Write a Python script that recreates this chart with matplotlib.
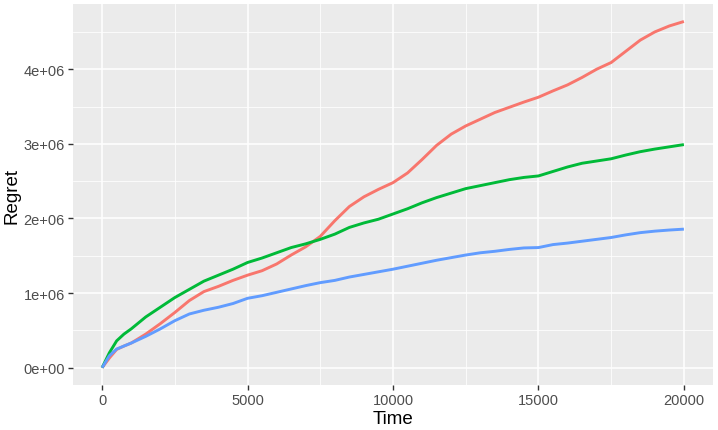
import numpy as np
import matplotlib
matplotlib.use("Agg")
import matplotlib.pyplot as plt
from matplotlib.ticker import FixedLocator, FuncFormatter

time = [0, 250, 500, 750, 1000, 1500, 2000, 2500, 3000, 3500, 4000, 4500, 5000,
        5500, 6000, 6500, 7000, 7500, 8000, 8500, 9000, 9500, 10000, 10500, 11000,
        11500, 12000, 12500, 13000, 13500, 14000, 14500, 15000, 15500, 16000, 16500,
        17000, 17500, 18000, 18500, 19000, 19500, 20000]

# regret in millions
regret_red = [0, 0.13, 0.245, 0.29, 0.33, 0.45, 0.59, 0.74, 0.90, 1.02, 1.09, 1.17, 1.24,
              1.30, 1.39, 1.51, 1.62, 1.76, 1.97, 2.16, 2.29, 2.39, 2.48, 2.61, 2.79,
              2.98, 3.13, 3.24, 3.33, 3.42, 3.49, 3.56, 3.625, 3.71, 3.79, 3.89,
              4.00, 4.09, 4.24, 4.39, 4.50, 4.58, 4.64]
regret_green = [0, 0.20, 0.36, 0.45, 0.52, 0.68, 0.81, 0.94, 1.05, 1.16, 1.24, 1.32, 1.41,
                1.47, 1.54, 1.61, 1.66, 1.72, 1.79, 1.88, 1.94, 1.99, 2.06, 2.13, 2.21,
                2.28, 2.34, 2.40, 2.44, 2.48, 2.52, 2.55, 2.57, 2.63, 2.69, 2.74,
                2.77, 2.80, 2.85, 2.895, 2.93, 2.96, 2.99]
regret_blue = [0, 0.16, 0.25, 0.29, 0.33, 0.42, 0.52, 0.63, 0.72, 0.77, 0.81, 0.86, 0.93,
               0.965, 1.01, 1.055, 1.10, 1.14, 1.17, 1.215, 1.25, 1.285, 1.32, 1.36, 1.40,
               1.44, 1.475, 1.51, 1.54, 1.56, 1.585, 1.605, 1.61, 1.65, 1.67, 1.695,
               1.72, 1.745, 1.78, 1.81, 1.83, 1.845, 1.857]

series = [("A", regret_red, "#F8766D"),
          ("B", regret_green, "#00BA38"),
          ("C", regret_blue, "#619CFF")]

x_major = [0, 5000, 10000, 15000, 20000]
x_minor = [2500, 7500, 12500, 17500]
y_major = [0, 1e6, 2e6, 3e6, 4e6]
y_minor = [0.5e6, 1.5e6, 2.5e6, 3.5e6, 4.5e6]

plt.rcParams['font.family'] = ['Liberation Sans', 'DejaVu Sans']

fig = plt.figure(figsize=(7.18, 4.31), dpi=100)
ax = fig.add_axes([0.1017, 0.1044, 0.993 - 0.1017, 0.988 - 0.1044])
ax.set_facecolor("#EBEBEB")

for name, vals, col in series:
    ax.plot(time, np.array(vals) * 1e6, color=col, lw=2.1, solid_capstyle="butt",
            solid_joinstyle="round", zorder=3)

allv = np.concatenate([np.array(v) * 1e6 for _, v, _ in series])
ymin, ymax = allv.min(), allv.max()
yr = ymax - ymin
ax.set_ylim(ymin - 0.05 * yr, ymax + 0.05 * yr)
xr = max(time) - min(time)
ax.set_xlim(min(time) - 0.05 * xr, max(time) + 0.05 * xr)

ax.xaxis.set_major_locator(FixedLocator(x_major))
ax.xaxis.set_minor_locator(FixedLocator(x_minor))
ax.yaxis.set_major_locator(FixedLocator(y_major))
ax.yaxis.set_minor_locator(FixedLocator(y_minor))
ax.yaxis.set_major_formatter(FuncFormatter(lambda v, p: "%de+%02d" % (round(v / 1e6), 6) if v != 0 else "0e+00"))
ax.xaxis.set_major_formatter(FuncFormatter(lambda v, p: "%d" % v))

ax.grid(which="major", color="white", lw=1.1, zorder=1)
ax.grid(which="minor", color="white", lw=0.55, zorder=1)
ax.set_axisbelow(True)
for s in ax.spines.values():
    s.set_visible(False)

ax.tick_params(which="major", length=3.8, width=1.0, color="#333333",
               labelcolor="#4D4D4D", labelsize=10.5, pad=2)
ax.tick_params(which="minor", length=0)

ax.set_xlabel("Time", fontsize=13.5, color="black", labelpad=2)
ax.set_ylabel("Regret", fontsize=13.5, color="black", labelpad=2)

fig.savefig("out.png", dpi=100, facecolor="white")
